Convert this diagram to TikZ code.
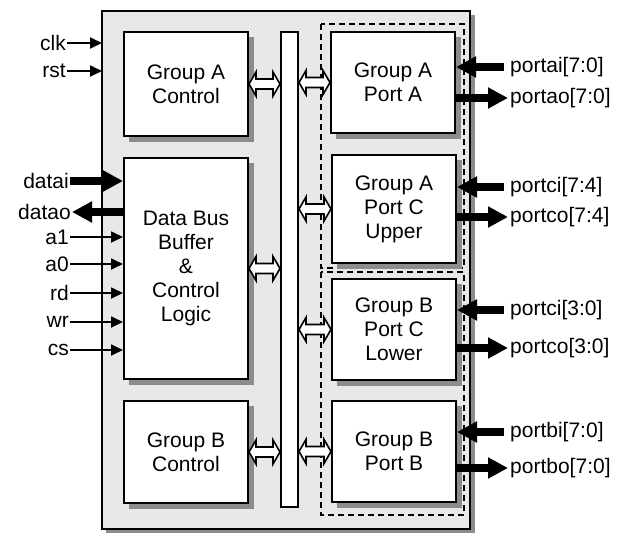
\documentclass[tikz,border=0pt]{standalone}
\usepackage{fontspec}
\setmainfont{Liberation Sans}
\usetikzlibrary{arrows.meta,calc}
\definecolor{panelgray}{HTML}{E8E8E8}
\definecolor{shadowgray}{HTML}{8C8C8C}
\tikzset{
  blk/.style={draw, line width=2pt, fill=white, align=center, inner sep=0pt,
    font=\fontsize{21}{24}\selectfont},
  shadowbox/.style={draw=shadowgray, line width=0.5pt, fill=shadowgray},
  dbl/.style={draw, line width=1.6pt, fill=white, line join=miter},
  thinpin/.style={line width=1.8pt, -{Triangle[length=12pt,width=11pt]}},
  thickpin/.style={line width=8pt, -{Triangle[length=20pt,width=20pt]}},
  lbl/.style={inner sep=1pt, font=\fontsize{21}{24}\selectfont},
  grp/.style={draw, line width=1.4pt, dash pattern=on 6pt off 4pt},
}
\newcommand{\dblarr}[2]{%
  \draw[dbl] (#1) -- ++(7,12) -- ++(0,-7) -- ($(#2)+(-7,5)$) -- ++(0,7) -- (#2)
    -- ++(-7,-12) -- ++(0,7) -- ($(#1)+(7,-5)$) -- ++(0,-7) -- cycle;}
\begin{document}
\begin{tikzpicture}[x=1pt,y=-1pt]
\useasboundingbox (0,0) rectangle (629,533);
% outer panel
\draw[shadowbox] (106,15) rectangle (474,532);
\draw[line width=2.5pt, fill=panelgray] (102,11) rectangle (470,529);
% group dashed frames
\draw[grp] (321,24) rectangle (464,268);
\draw[grp] (321,272) rectangle (464,515);
% blocks with shadows
\foreach \nm/\cx/\cy/\w/\h/\txt in {
  gac/186/84/124/104/{Group A\\Control},
  dbb/186/268.5/124/221/{Data Bus\\Buffer\\\&\\Control\\Logic},
  gbc/186/452/124/102/{Group B\\Control},
  pa/393/82.5/124/101/{Group A\\Port A},
  pcu/394/209/124/108/{Group A\\Port C\\Upper},
  pcl/394/329.5/124/101/{Group B\\Port C\\Lower},
  pb/394/451.5/124/101/{Group B\\Port B}}{
  \node[shadowbox, minimum width=\w pt, minimum height=\h pt, inner sep=0pt] at (\cx+5,\cy+5) {};
  \node[blk, minimum width=\w pt, minimum height=\h pt] (\nm) at (\cx,\cy) {\txt};
}
\node[draw, line width=2pt, fill=white, minimum width=17pt, minimum height=475pt, inner sep=0pt] (bus) at (289.5,269.5) {};
% bus double arrows
\foreach \n in {gac,dbb,gbc}{
  \coordinate (t1) at (\n.east);
  \coordinate (t2) at (bus.west |- \n.east);
  \dblarr{t1}{t2}
}
\foreach \n in {pa,pcu,pcl,pb}{
  \coordinate (t1) at (bus.east |- \n.west);
  \coordinate (t2) at (\n.west);
  \dblarr{t1}{t2}
}
% left pins
\node[lbl, anchor=east] (clk) at (67,43) {clk};
\node[lbl, anchor=east] (rst) at (67,71) {rst};
\draw[thinpin] (clk.east) -- (102,43);
\draw[thinpin] (rst.east) -- (102,71);
\node[lbl, anchor=east] (datai) at (70,181) {datai};
\node[lbl, anchor=east] (datao) at (72,212) {datao};
\draw[thickpin] (datai.east) -- (datai.east -| dbb.west);
\draw[thickpin] (datao.east -| dbb.west) -- (datao.east);
\foreach \s/\y in {a1/237, a0/264, rd/293, wr/322, cs/350}{
  \node[lbl, anchor=east] (\s) at (70,\y) {\s};
  \draw[thinpin] (\s.east) -- (\s.east -| dbb.west);
}
% right pins
\foreach \n/\y/\t/\o in {pa/67/portai[7:0]/0, pa/98/portao[7:0]/1,
  pcu/187/portci[7:4]/0, pcu/217/portco[7:4]/1,
  pcl/310/portci[3:0]/0, pcl/348/portco[3:0]/1,
  pb/432/portbi[7:0]/0, pb/468/portbo[7:0]/1}{
  \node[lbl, anchor=west] (r\y) at (509,\y) {\t};
  \coordinate (e\y) at (\n.east |- r\y.west);
  \ifnum\o=0
    \draw[thickpin] ($(r\y.west)+(-5,0)$) -- (e\y);
  \else
    \draw[thickpin] (e\y) -- ($(r\y.west)+(-1,0)$);
  \fi
}
\end{tikzpicture}
\end{document}
